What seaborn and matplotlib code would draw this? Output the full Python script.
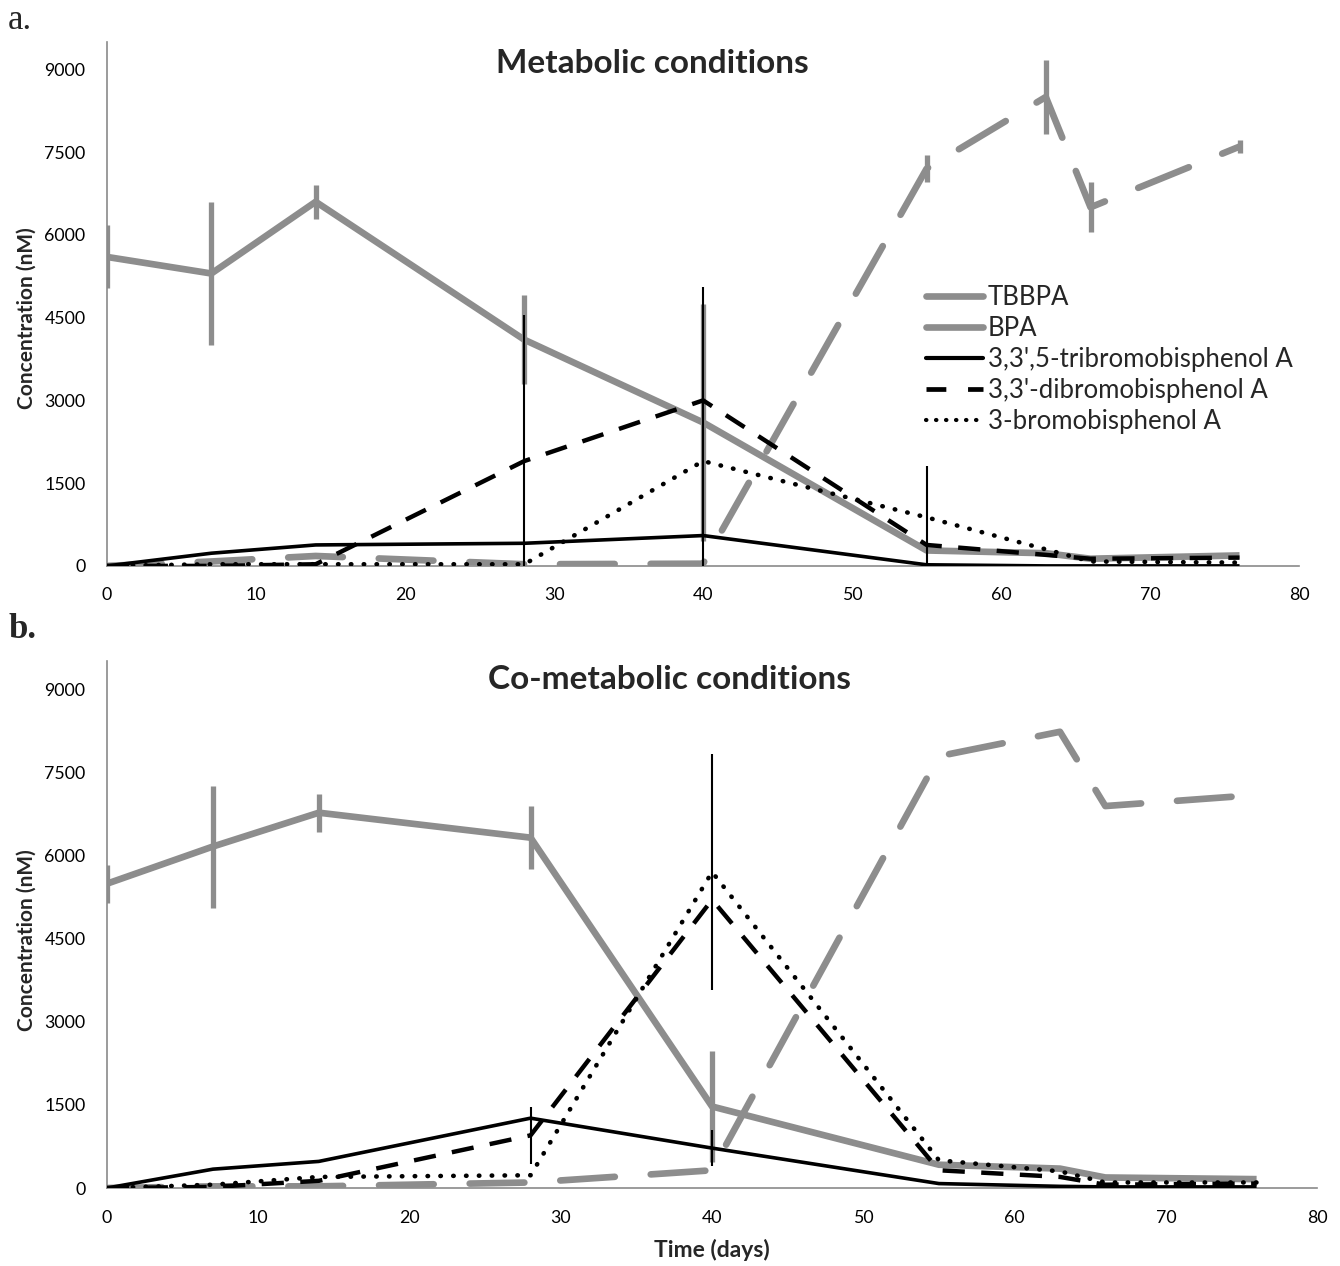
import numpy as np
import pandas as pd
import matplotlib
matplotlib.use("Agg")
import matplotlib.pyplot as plt
from matplotlib.lines import Line2D
import seaborn as sns

# ---------------- data ----------------
days = [0, 7, 14, 28, 40, 55, 63, 66, 76]

series_names = ["TBBPA", "BPA", "3,3',5-tribromobisphenol A",
                "3,3'-dibromobisphenol A", "3-bromobisphenol A"]

# (a) Metabolic conditions
tbbpa_a = [5600, 5300, 6600, 4100, 2600, 280, 230, 130, 190]
tbbpa_a_err = [570, 1300, 310, 810, 2150, 0, 0, 0, 0]
bpa_a = [0, 80, 180, 30, 40, 7200, 8500, 6500, 7600]
bpa_a_err = [0, 0, 0, 0, 0, 240, 670, 450, 120]
tri_a = [0, 230, 380, 410, 550, 20, 0, 0, 0]
tri_a_err = [0, 0, 0, 0, 0, 0, 0, 0, 0]
di_a = [0, 0, 30, 1900, 3000, 380, 200, 130, 150]
di_a_err = [0, 0, 0, 0, 0, 0, 0, 0, 0]
mono_a = [0, 30, 30, 30, 1900, 880, 300, 80, 60]
mono_a_err = [0, 0, 0, 4520, 3150, 930, 0, 0, 0]

# (b) Co-metabolic conditions
tbbpa_b = [5490, 6160, 6770, 6320, 1470, 420, 350, 190, 160]
tbbpa_b_err = [340, 1100, 340, 570, 1000, 0, 0, 0, 0]
bpa_b = [0, 30, 30, 100, 320, 7790, 8230, 6890, 7090]
bpa_b_err = [0, 0, 0, 0, 0, 0, 0, 0, 0]
tri_b = [0, 340, 480, 1260, 720, 80, 30, 20, 20]
tri_b_err = [0, 0, 0, 0, 320, 0, 0, 0, 0]
di_b = [0, 20, 130, 950, 5200, 320, 200, 60, 80]
di_b_err = [0, 0, 0, 520, 0, 0, 0, 0, 0]
mono_b = [0, 60, 200, 230, 5700, 500, 300, 100, 100]
mono_b_err = [0, 0, 0, 0, 2120, 0, 0, 0, 0]

y_ticks = [0, 1500, 3000, 4500, 6000, 7500, 9000]
x_ticks = [0, 10, 20, 30, 40, 50, 60, 70, 80]

# ---------------- style ----------------
sns.set_theme(style="white")
plt.rcParams["font.family"] = ["Lato", "DejaVu Sans"]

GREY = "#8d8d8d"
AXGREY = "#8a8a8a"

styles = {
    "TBBPA": dict(color=GREY, lw=4.8, ls="-", cap="round", elw=3.8),
    "BPA": dict(color=GREY, lw=4.8, ls=(0, (8.2, 5.4)), cap="round", elw=3.8),
    "3,3',5-tribromobisphenol A": dict(color="black", lw=2.6, ls="-", cap="butt", elw=1.5),
    "3,3'-dibromobisphenol A": dict(color="black", lw=3.2, ls=(0, (5.0, 3.7)), cap="butt", elw=1.5),
    "3-bromobisphenol A": dict(color="black", lw=3.3, ls=(0, (0.1, 2.7)), cap="round", elw=1.5),
}


def make_df(vals, errs):
    rows = []
    for name, v, e in zip(series_names, vals, errs):
        for d, y, er in zip(days, v, e):
            rows.append({"day": d, "conc": y, "err": er, "series": name})
    return pd.DataFrame(rows)


df_a = make_df([tbbpa_a, bpa_a, tri_a, di_a, mono_a],
               [tbbpa_a_err, bpa_a_err, tri_a_err, di_a_err, mono_a_err])
df_b = make_df([tbbpa_b, bpa_b, tri_b, di_b, mono_b],
               [tbbpa_b_err, bpa_b_err, tri_b_err, di_b_err, mono_b_err])

fig = plt.figure(figsize=(13.4, 12.66), dpi=100)
ax_a = fig.add_axes([0.0799, 0.553, 0.8896, 0.414])
ax_b = fig.add_axes([0.0799, 0.0616, 0.9030, 0.416])


def draw(ax, df):
    z = 2
    for name in series_names:
        sub = df[df["series"] == name]
        st = styles[name]
        sns.lineplot(data=sub, x="day", y="conc", ax=ax, color=st["color"],
                     lw=st["lw"], linestyle=st["ls"], estimator=None,
                     errorbar=None, sort=False, zorder=z,
                     solid_joinstyle="round", dash_capstyle=st["cap"],
                     dash_joinstyle="round", solid_capstyle="butt")
        e = sub[sub["err"] > 0]
        if len(e):
            ax.errorbar(e["day"], e["conc"], yerr=e["err"], fmt="none",
                        ecolor=st["color"], elinewidth=st["elw"], capsize=0,
                        zorder=z + 0.5)
        z += 1
    ax.set_xlim(0, 80)
    ax.set_ylim(0, 9500)
    ax.set_xticks(x_ticks)
    ax.set_yticks(y_ticks)
    ax.set_xlabel("")
    ax.set_ylabel("")
    for s in ["top", "right"]:
        ax.spines[s].set_visible(False)
    for s in ["left", "bottom"]:
        ax.spines[s].set_color(AXGREY)
        ax.spines[s].set_linewidth(1.2)
    ax.tick_params(axis="both", direction="out", length=4.5, width=1.2,
                   color=AXGREY, labelsize=12.8, labelcolor="black")
    ax.tick_params(axis="y", pad=11)
    ax.tick_params(axis="x", pad=11)
    ax.grid(False)
    if ax.get_legend() is not None:
        ax.get_legend().remove()


draw(ax_a, df_a)
draw(ax_b, df_b)

# titles inside panels
fig.text(0.4866, 0.950, "Metabolic conditions", ha="center", va="center",
         fontsize=24, fontweight="bold")
fig.text(0.4993, 0.4629, "Co-metabolic conditions", ha="center", va="center",
         fontsize=24, fontweight="bold")

# axis labels
fig.text(0.020, 0.749, "Concentration (nM)", rotation=90, ha="center",
         va="center", fontsize=15, fontweight="bold")
fig.text(0.020, 0.2575, "Concentration (nM)", rotation=90, ha="center",
         va="center", fontsize=15, fontweight="bold")
fig.text(0.531, 0.0126, "Time (days)", ha="center", va="center",
         fontsize=16.5, fontweight="bold")

# panel labels
fig.text(0.006, 0.984, "a.", ha="left", va="center", fontsize=25,
         family="Liberation Serif")
fig.text(0.006, 0.5024, "b.", ha="left", va="center", fontsize=25,
         family="Liberation Serif", fontweight="bold")

# legend (top panel)
handles = [
    Line2D([], [], color=GREY, lw=4.8, solid_capstyle="round"),
    Line2D([], [], color=GREY, lw=4.8, solid_capstyle="round"),
    Line2D([], [], color="black", lw=3.0),
    Line2D([], [], color="black", lw=3.4, ls=(0, (4.2, 4.6))),
    Line2D([], [], color="black", lw=3.0, ls=(0, (0.1, 2.3)), dash_capstyle="round"),
]
ax_a.legend(handles, series_names, loc="upper left",
            bbox_to_anchor=(926 / 1340, 1 - 285 / 1266),
            bbox_transform=fig.transFigure, frameon=False,
            fontsize=18.5, handlelength=2.2, handletextpad=0.2,
            labelspacing=0.23, borderpad=0, borderaxespad=0)

fig.savefig("out.png", dpi=100, facecolor="white")
